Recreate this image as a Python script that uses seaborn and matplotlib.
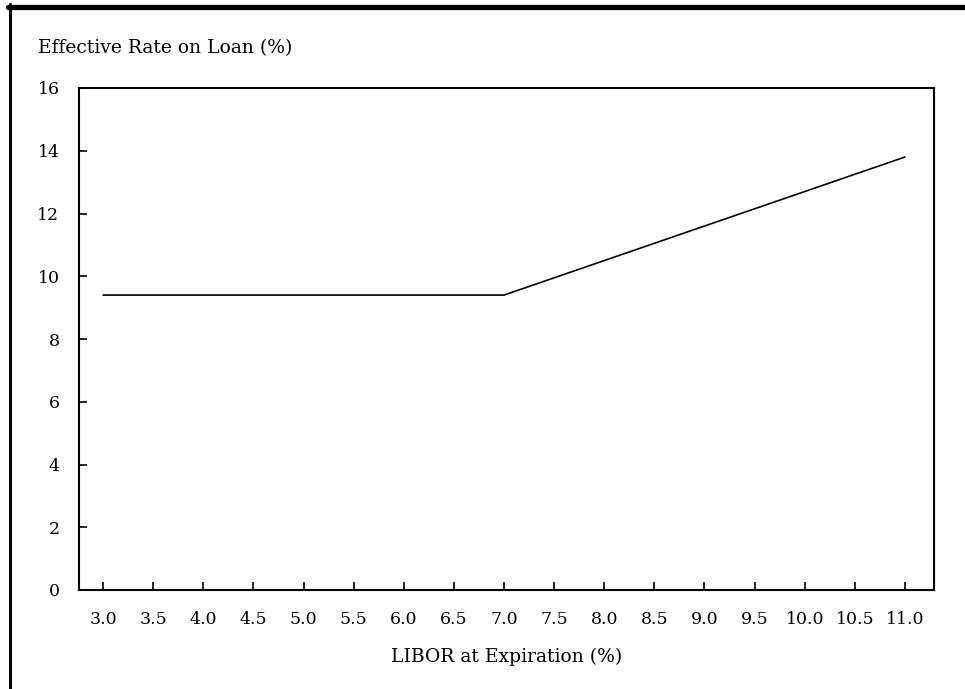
import matplotlib
matplotlib.use("Agg")
import matplotlib.pyplot as plt
from matplotlib.lines import Line2D
import pandas as pd
import seaborn as sns

# LIBOR at expiration (%) and the resulting effective loan rate (%)
libor = [3.0, 3.5, 4.0, 4.5, 5.0, 5.5, 6.0, 6.5, 7.0,
         7.5, 8.0, 8.5, 9.0, 9.5, 10.0, 10.5, 11.0]
effective_rate = [9.40, 9.40, 9.40, 9.40, 9.40, 9.40, 9.40, 9.40, 9.40,
                  9.95, 10.50, 11.05, 11.60, 12.15, 12.70, 13.25, 13.80]
x_ticks = [3.0, 3.5, 4.0, 4.5, 5.0, 5.5, 6.0, 6.5, 7.0,
           7.5, 8.0, 8.5, 9.0, 9.5, 10.0, 10.5, 11.0]
y_ticks = [0, 2, 4, 6, 8, 10, 12, 14, 16]

df = pd.DataFrame({"libor": libor, "rate": effective_rate})

sns.set_style("ticks")
plt.rcParams["font.family"] = ["DejaVu Serif"]
plt.rcParams["text.color"] = "black"
plt.rcParams["axes.labelcolor"] = "black"

fig = plt.figure(figsize=(9.65, 6.89), dpi=100)
ax = fig.add_axes([79 / 965, 1 - 590 / 689, (934 - 79) / 965, (590 - 88) / 689])

sns.lineplot(data=df, x="libor", y="rate", ax=ax, color="black", linewidth=1.2)

ax.set_xlim(2.76, 11.29)
ax.set_ylim(0, 16)
ax.set_xticks(x_ticks)
ax.set_xticklabels([f"{v:.1f}" for v in x_ticks])
ax.set_yticks(y_ticks)
ax.tick_params(axis="both", direction="in", length=6, width=1.2,
               labelsize=12.5, colors="black")
ax.tick_params(axis="x", pad=15)
ax.tick_params(axis="y", pad=14)
for s in ax.spines.values():
    s.set_visible(True)
    s.set_linewidth(1.5)
    s.set_color("black")

ax.set_xlabel("LIBOR at Expiration (%)", fontsize=13.5, labelpad=14, color="black")
ax.set_ylabel("")
fig.text(38 / 965, 1 - 48 / 689, "Effective Rate on Loan (%)",
         fontsize=13.5, ha="left", va="center", color="black")

# page frame: heavy rule along the top, thinner rule down the left side
fig.add_artist(Line2D([8 / 965, 1.0], [1 - 6.5 / 689, 1 - 6.5 / 689],
                      transform=fig.transFigure, color="black", linewidth=3.8))
fig.add_artist(Line2D([9.5 / 965, 9.5 / 965], [0, 1 - 4 / 689],
                      transform=fig.transFigure, color="black", linewidth=2.2))

fig.savefig("out.png", dpi=100)
